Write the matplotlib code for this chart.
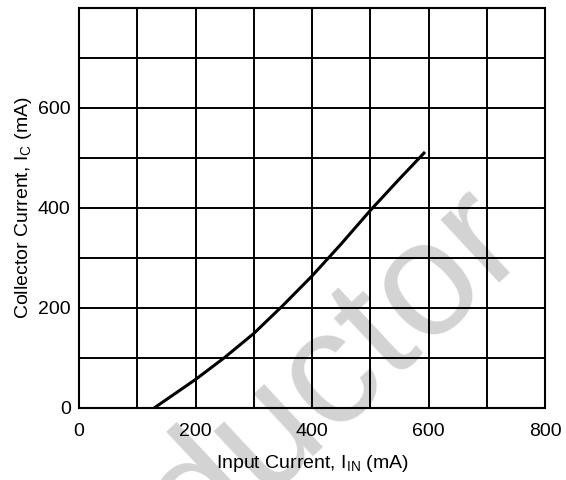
import matplotlib.pyplot as plt

plt.rcParams['font.family'] = ['Liberation Sans', 'DejaVu Sans']

# curve (mA)
input_current = [129, 200, 250, 300, 350, 400, 450, 500, 550, 594]
collector_current = [0, 57, 101, 149, 205, 264, 328, 395, 458, 512]

x_ticks = [0, 200, 400, 600, 800]
y_ticks = [0, 200, 400, 600]
grid_steps = list(range(0, 801, 100))

fig = plt.figure(figsize=(5.66, 4.80), dpi=100)
ax = fig.add_axes([79 / 566, 72 / 480, 466 / 566, 400 / 480])
ax.patch.set_alpha(0)

# faint watermark behind the grid
fig.text(0.592, 0.225, "ductor", fontsize=118, color="#d3d3d3", rotation=43,
         ha="center", va="center", zorder=-5)

ax.plot(input_current, collector_current, color="black", linewidth=2.2,
        solid_capstyle="butt", solid_joinstyle="round")

ax.set_xlim(0, 800)
ax.set_ylim(0, 800)
ax.set_xticks(grid_steps)
ax.set_yticks(grid_steps)
ax.set_xticklabels([str(v) if v in x_ticks else "" for v in grid_steps])
ax.set_yticklabels([str(v) if v in y_ticks else "" for v in grid_steps])
ax.grid(True, color="black", linewidth=1.4)
ax.tick_params(length=0, labelsize=14)
ax.tick_params(axis="x", pad=11)
ax.tick_params(axis="y", pad=6)
for s in ax.spines.values():
    s.set_linewidth(1.5)

ax.set_xlabel(r"Input Current, $\mathregular{I_{IN}}$ (mA)", fontsize=14, labelpad=9)
ax.set_ylabel(r"Collector Current, $\mathregular{I_C}$ (mA)", fontsize=14, labelpad=3)

fig.savefig("out.png", dpi=100)
